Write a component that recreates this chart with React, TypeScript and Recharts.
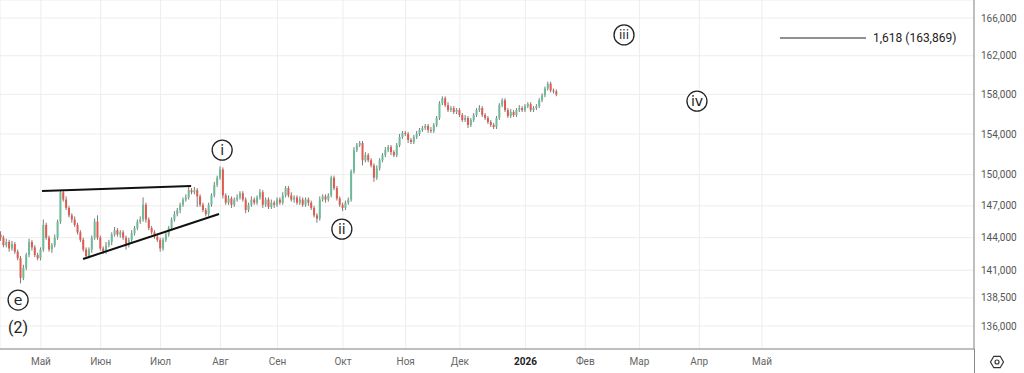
import {
  ComposedChart,
  Bar,
  XAxis,
  YAxis,
  CartesianGrid,
  ReferenceLine,
  ReferenceDot,
} from "recharts";

// daily closes, in thousands
const firstOpen = 144.3;
const closes = [
  144.0, 143.3, 143.6, 143.0, 143.4, 142.7, 142.1, 140.3, 141.2, 142.4,
  143.6, 143.1, 142.4, 142.1, 142.9, 145.2, 144.0, 142.9, 143.3, 144.0,
  145.5, 148.3, 147.6, 146.8, 146.1, 145.7, 145.2, 144.5, 143.8, 142.9,
  142.3, 142.9, 144.0, 145.5, 144.0, 143.0, 142.7, 143.3, 143.6, 144.3,
  144.7, 144.3, 144.5, 144.0, 143.3, 143.8, 144.4, 144.9, 145.5, 145.7,
  147.1, 145.7, 144.9, 144.5, 144.1, 143.8, 143.0, 143.8, 144.3, 144.9,
  145.7, 146.2, 146.6, 147.1, 147.6, 147.8, 148.5, 148.3, 148.5, 147.9,
  147.1, 146.6, 146.2, 147.1, 148.0, 149.0, 149.7, 150.5, 148.0, 147.3,
  147.7, 147.1, 147.6, 147.8, 148.2, 147.6, 146.6, 147.1, 147.6, 147.3,
  147.8, 148.3, 147.1, 147.6, 146.9, 147.3, 147.1, 147.6, 147.3, 148.0,
  148.7, 148.0, 147.6, 147.8, 147.3, 147.6, 147.1, 147.6, 147.3, 146.8,
  146.1, 145.8, 147.6, 147.9, 147.6, 148.0, 149.7, 148.7, 147.7, 147.1,
  146.8, 147.3, 147.6, 150.3, 152.4, 152.9, 153.1, 151.4, 151.9, 151.4,
  150.9, 149.7, 150.6, 151.4, 151.9, 152.4, 152.7, 152.2, 151.9, 152.9,
  153.7, 154.1, 154.0, 153.4, 153.2, 153.7, 154.0, 154.4, 154.6, 154.8,
  154.4, 154.3, 154.9, 155.6, 157.1, 157.6, 156.9, 156.4, 156.6, 156.2,
  156.4, 155.9, 155.4, 155.6, 154.9, 155.4, 155.9, 156.4, 156.6, 155.9,
  155.6, 155.2, 154.9, 154.7, 155.6, 156.9, 157.4, 156.4, 155.8, 156.2,
  155.9, 156.4, 156.6, 156.4, 156.8, 157.0, 156.4, 156.6, 156.8, 157.4,
  157.9, 158.6, 159.1, 158.4, 158.3, 158.0,
];
const upperWicks = [
  0.3, 0.2, 0.3, 0.2, 0.3, 0.2, 0.2, 0.2, 0.3, 0.2,
  0.3, 0.2, 0.2, 0.2, 0.2, 0.5, 0.2, 0.2, 0.2, 0.3,
  0.2, 0.2, 0.2, 0.3, 0.2, 0.2, 0.3, 0.2, 0.2, 0.2,
  0.2, 0.2, 0.2, 0.3, 0.6, 0.2, 0.2, 0.3, 0.2, 0.2,
  0.3, 0.2, 0.2, 0.2, 0.2, 0.2, 0.3, 0.2, 0.2, 0.3,
  0.7, 0.2, 0.2, 0.2, 0.2, 0.2, 0.2, 0.2, 0.2, 0.2,
  0.2, 0.3, 0.2, 0.2, 0.2, 0.3, 0.5, 0.2, 0.3, 0.2,
  0.2, 0.2, 0.2, 0.2, 0.2, 0.3, 0.2, 0.3, 0.2, 0.2,
  0.3, 0.2, 0.2, 0.3, 0.2, 0.2, 0.2, 0.2, 0.3, 0.2,
  0.2, 0.3, 0.2, 0.2, 0.2, 0.3, 0.2, 0.2, 0.2, 0.3,
  0.2, 0.2, 0.3, 0.2, 0.2, 0.3, 0.2, 0.2, 0.2, 0.2,
  0.2, 0.2, 0.3, 0.2, 0.2, 0.2, 0.2, 0.2, 0.2, 0.2,
  0.2, 0.2, 0.2, 0.2, 0.3, 0.2, 0.2, 0.2, 0.3, 0.2,
  0.2, 0.2, 0.3, 0.2, 0.2, 0.3, 0.2, 0.2, 0.2, 0.2,
  0.3, 0.2, 0.2, 0.2, 0.2, 0.2, 0.3, 0.2, 0.2, 0.2,
  0.2, 0.3, 0.2, 0.2, 0.2, 0.2, 0.2, 0.3, 0.2, 0.2,
  0.2, 0.2, 0.2, 0.3, 0.2, 0.2, 0.2, 0.2, 0.3, 0.2,
  0.2, 0.2, 0.2, 0.2, 0.2, 0.2, 0.2, 0.2, 0.2, 0.3,
  0.2, 0.2, 0.3, 0.2, 0.2, 0.2, 0.2, 0.2, 0.2, 0.2,
  0.2, 0.2, 0.2, 0.2, 0.2, 0.2,
];
const lowerWicks = [
  0.3, 0.2, 0.2, 0.3, 0.2, 0.2, 0.2, 0.5, 0.2, 0.2,
  0.2, 0.3, 0.2, 0.2, 0.2, 0.2, 0.2, 0.2, 0.3, 0.2,
  0.2, 0.2, 0.2, 0.2, 0.2, 0.3, 0.2, 0.2, 0.2, 0.2,
  0.2, 0.2, 0.3, 0.2, 0.2, 0.2, 0.2, 0.2, 0.2, 0.3,
  0.2, 0.2, 0.3, 0.2, 0.4, 0.2, 0.2, 0.2, 0.2, 0.2,
  0.2, 0.3, 0.2, 0.2, 0.2, 0.2, 0.3, 0.2, 0.2, 0.2,
  0.2, 0.2, 0.2, 0.3, 0.2, 0.2, 0.2, 0.2, 0.2, 1.0,
  0.2, 0.2, 0.2, 0.2, 0.2, 0.2, 0.2, 0.2, 0.3, 0.2,
  0.2, 0.3, 0.2, 0.2, 0.2, 0.2, 0.3, 0.2, 0.2, 0.2,
  0.2, 0.2, 0.3, 0.2, 0.2, 0.2, 0.3, 0.2, 0.2, 0.2,
  0.2, 0.2, 0.2, 0.3, 0.2, 0.2, 0.2, 0.2, 0.3, 0.2,
  0.2, 0.4, 0.2, 0.2, 0.3, 0.2, 0.2, 0.2, 0.2, 0.2,
  0.3, 0.2, 0.2, 0.2, 0.2, 0.2, 0.2, 0.5, 0.2, 0.2,
  0.2, 0.4, 0.2, 0.2, 0.2, 0.2, 0.2, 0.3, 0.2, 0.2,
  0.2, 0.2, 0.2, 0.3, 0.2, 0.2, 0.2, 0.2, 0.2, 0.2,
  0.3, 0.2, 0.2, 0.2, 0.2, 0.2, 0.2, 0.2, 0.2, 0.2,
  0.2, 0.2, 0.2, 0.2, 0.3, 0.2, 0.2, 0.2, 0.2, 0.2,
  0.2, 0.2, 0.2, 0.2, 0.2, 0.2, 0.2, 0.2, 0.2, 0.2,
  0.2, 0.2, 0.2, 0.2, 0.2, 0.2, 0.2, 0.2, 0.2, 0.2,
  0.2, 0.2, 0.2, 0.2, 0.2, 0.2,
];

// bar index of first session of each month
const monthTicks = [14, 35, 56, 77, 97, 120, 142, 161, 184, 205, 224, 245, 267];
const monthLabels = ["Май", "Июн", "Июл", "Авг", "Сен", "Окт", "Ноя", "Дек", "2026", "Фев", "Мар", "Апр", "Май"];
const priceTicks = [136000, 138500, 141000, 144000, 147000, 150000, 154000, 158000, 162000, 166000];

const fibLevel = 163869;
const fibText = "1,618 (163,869)";

const waveLabels = [
  { text: "e", x: 6, y: 138300 },
  { text: "i", x: 77.6, y: 152400 },
  { text: "ii", x: 119.6, y: 144800 },
  { text: "iii", x: 218.6, y: 164200 },
  { text: "iv", x: 244.2, y: 157300 },
];
const degreeLabel = { text: "(2)", x: 6, y: 135900 };

const trendLines = [
  [{ x: 14.4, y: 148420 }, { x: 66.7, y: 148900 }],
  [{ x: 28.8, y: 142030 }, { x: 76.5, y: 146225 }],
];
const fibSegment = [{ x: 273.3, y: fibLevel }, { x: 303.5, y: fibLevel }];

const GREEN = "#6dbb98";
const RED = "#e25a4e";
const WICK = "#7b7b7b";
const FONT = "Roboto, 'Liberation Sans', sans-serif";

const candles = closes.map((c, i) => {
  const o = i === 0 ? firstOpen : closes[i - 1];
  const hi = Math.max(o, c) + upperWicks[i];
  const lo = Math.min(o, c) - lowerWicks[i];
  return {
    i,
    open: o * 1000,
    close: c * 1000,
    high: hi * 1000,
    low: lo * 1000,
    range: [lo * 1000, hi * 1000],
  };
});

function Candle(props: any) {
  const { x, y, width, height, payload } = props;
  if (!payload || height == null) return null;
  const top = Math.min(y, y + height);
  const bottom = Math.max(y, y + height);
  const lh = Math.log(payload.high);
  const ll = Math.log(payload.low);
  const py = (v: number) => top + ((bottom - top) * (lh - Math.log(v))) / (lh - ll);
  const yo = py(payload.open);
  const yc = py(payload.close);
  const up = payload.close >= payload.open;
  const cx = x + width / 2;
  const bodyTop = Math.min(yo, yc);
  const bodyH = Math.max(1, Math.abs(yo - yc));
  return (
    <g>
      <line x1={cx} x2={cx} y1={top} y2={bottom} stroke={WICK} strokeWidth={1} />
      <rect x={cx - 1} y={bodyTop} width={2} height={bodyH} fill={up ? GREEN : RED} />
    </g>
  );
}

function MonthTick(props: any) {
  const { x, y, index } = props;
  const label = monthLabels[index] ?? "";
  const bold = label === "2026";
  return (
    <text
      x={x}
      y={y}
      dy="0.71em"
      textAnchor="middle"
      fontSize={10}
      fontFamily={FONT}
      fontWeight={bold ? 700 : 400}
      fill={bold ? "#222" : "#666"}
    >
      {label}
    </text>
  );
}

export default function App() {
  return (
    <div style={{ position: "relative", width: 1024, height: 373, background: "#fff" }}>
      <style>{`body{margin:0}`}</style>
      <ComposedChart
        width={1024}
        height={373}
        data={candles}
        margin={{ top: 0, right: 0, left: 0, bottom: 0 }}
      >
        <CartesianGrid stroke="#ededed" />
        <XAxis
          dataKey="i"
          type="number"
          scale="linear"
          domain={[-0.351, 341.4]}
          allowDataOverflow
          ticks={monthTicks}
          interval={0}
          height={24}
          tickLine={false}
          tickSize={6}
          tickMargin={3}
          axisLine={{ stroke: "#888" }}
          tick={<MonthTick />}
        />
        <YAxis
          orientation="right"
          scale="log"
          domain={[133990, 167950]}
          allowDataOverflow
          ticks={priceTicks}
          interval={0}
          width={50}
          tickLine={false}
          tickSize={5}
          tickMargin={2}
          axisLine={{ stroke: "#888" }}
          tick={{ fontSize: 10, fill: "#555", fontFamily: FONT, textAnchor: "start" }}
          tickFormatter={(v: number) => v.toLocaleString("en-US")}
        />
        <Bar
          dataKey="range"
          barSize={2}
          shape={<Candle />}
          isAnimationActive={false}
        />
        {trendLines.map((seg, k) => (
          <ReferenceLine key={k} segment={seg} stroke="#111" strokeWidth={2} ifOverflow="visible" />
        ))}
        <ReferenceLine segment={fibSegment} stroke="#222" strokeWidth={1} ifOverflow="visible" />
        <ReferenceDot
          x={fibSegment[1].x}
          y={fibLevel}
          r={0}
          ifOverflow="visible"
          shape={(p: any) => (
            <text x={p.cx + 7} y={p.cy} dy="0.35em" fontSize={12} fontFamily={FONT} fill="#222">
              {fibText}
            </text>
          )}
        />
        {waveLabels.map((w) => (
          <ReferenceDot
            key={w.text}
            x={w.x}
            y={w.y}
            r={10}
            ifOverflow="visible"
            shape={(p: any) => (
              <g>
                <circle cx={p.cx} cy={p.cy} r={10} fill="#fff" stroke="#222" strokeWidth={1.3} />
                <text
                  x={p.cx}
                  y={p.cy}
                  dy="0.36em"
                  textAnchor="middle"
                  fontSize={w.text.length > 2 ? 12 : 14}
                  fontFamily="'DejaVu Sans', sans-serif"
                  fill="#222"
                >
                  {w.text}
                </text>
              </g>
            )}
          />
        ))}
        <ReferenceDot
          x={degreeLabel.x}
          y={degreeLabel.y}
          r={0}
          ifOverflow="visible"
          shape={(p: any) => (
            <text x={p.cx} y={p.cy} dy="0.35em" textAnchor="middle" fontSize={16} fontFamily={FONT} fill="#222">
              {degreeLabel.text}
            </text>
          )}
        />
      </ComposedChart>
      <svg
        width={1024}
        height={373}
        style={{ position: "absolute", left: 0, top: 0, pointerEvents: "none" }}
      >
        <line x1={974.5} x2={974.5} y1={349} y2={373} stroke="#888" />
        <polygon
          points="990.5,362 993.8,356.3 1000.2,356.3 1003.5,362 1000.2,367.7 993.8,367.7"
          fill="none"
          stroke="#333"
          strokeWidth={1.2}
        />
        <circle cx={997} cy={362} r={2} fill="none" stroke="#333" strokeWidth={1.2} />
      </svg>
    </div>
  );
}
